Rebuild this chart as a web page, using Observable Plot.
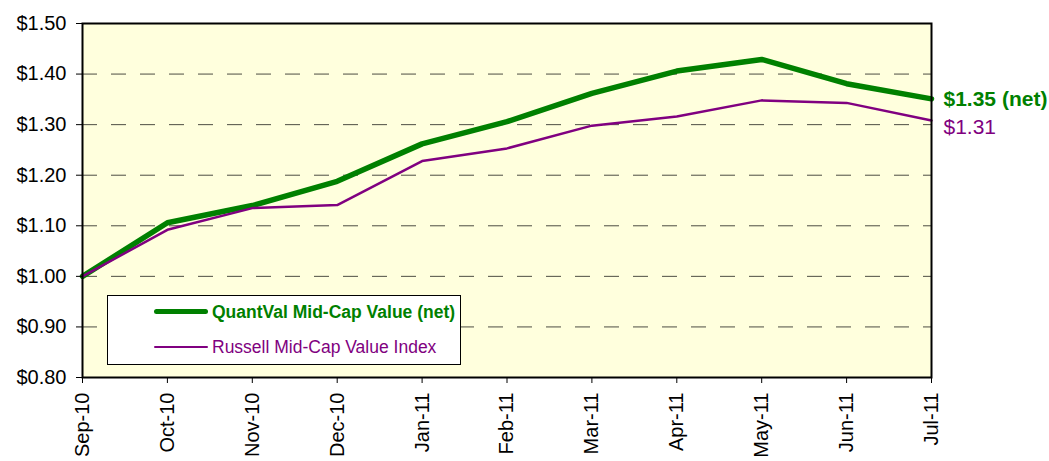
<!DOCTYPE html>
<html>
<head>
<meta charset="utf-8">
<script src="https://cdn.jsdelivr.net/npm/d3@7"></script>
<script src="https://cdn.jsdelivr.net/npm/@observablehq/plot@0.6"></script>
<style>
  body { margin: 0; background: #fff; font-family: "Liberation Sans", Arial, sans-serif; }
  #wrap { position: relative; width: 1049px; height: 461px; overflow: hidden; }
  #legend { position: absolute; left: 107px; top: 295px; width: 354px; height: 70px;
            background: #fff; border: 1px solid #000; box-sizing: border-box; }
  #legend .sample { position: absolute; left: 46px; width: 54px; }
  #legend .label { position: absolute; left: 104px; font-size: 17.5px; line-height: 20px; white-space: nowrap; }
</style>
</head>
<body>
<div id="wrap"></div>
<script>
// ---- data ----
const months = ["Sep-10","Oct-10","Nov-10","Dec-10","Jan-11","Feb-11","Mar-11","Apr-11","May-11","Jun-11","Jul-11"];
const quantval = [1.000, 1.106, 1.140, 1.188, 1.262, 1.306, 1.362, 1.406, 1.429, 1.381, 1.351];
const russell  = [1.000, 1.092, 1.135, 1.141, 1.228, 1.253, 1.298, 1.316, 1.348, 1.343, 1.308];
const seriesNames = ["QuantVal Mid-Cap Value (net)", "Russell Mid-Cap Value Index"];
const seriesColors = ["#008000", "#800080"];
const yTicks = [0.8, 0.9, 1.0, 1.1, 1.2, 1.3, 1.4, 1.5];
const gridValues = [0.9, 1.0, 1.1, 1.2, 1.3, 1.4];

const qData = months.map((m, i) => ({month: m, value: quantval[i]}));
const rData = months.map((m, i) => ({month: m, value: russell[i]}));

const chart = Plot.plot({
  width: 1049,
  height: 461,
  marginLeft: 82,
  marginRight: 118,
  marginTop: 23,
  marginBottom: 84,
  style: { fontFamily: "'Liberation Sans', Arial, sans-serif", fontSize: "20px", color: "#000", background: "transparent" },
  x: { type: "point", domain: months, padding: 0, round: false },
  y: { domain: [0.8, 1.5] },
  marks: [
    Plot.frame({ fill: "#FFFFDD" }),
    Plot.ruleY(gridValues, { stroke: "#000", strokeOpacity: 0.7, strokeWidth: 1, strokeDasharray: "15,14" }),
    Plot.line(qData, { x: "month", y: "value", stroke: seriesColors[0], strokeWidth: 5.5, strokeLinejoin: "round" }),
    Plot.line(rData, { x: "month", y: "value", stroke: seriesColors[1], strokeWidth: 2.5, strokeLinejoin: "round" }),
    Plot.frame({ stroke: "#000", strokeWidth: 2 }),
    Plot.axisY({ ticks: yTicks, tickFormat: d => "$" + d.toFixed(2), tickSize: 6, tickPadding: 10, fontSize: 20, label: null, stroke: "#000" }),
    Plot.axisX({ tickRotate: -90, tickSize: 6, tickPadding: 9, fontSize: 20, label: null, stroke: "#000" }),
    Plot.text([qData[qData.length - 1]], { x: "month", y: "value", text: d => "$" + d.value.toFixed(2) + " (net)",
      dx: 12, textAnchor: "start", fill: seriesColors[0], fontWeight: "bold", fontSize: 21 }),
    Plot.text([rData[rData.length - 1]], { x: "month", y: "value", text: d => "$" + d.value.toFixed(2),
      dx: 12, dy: 7, textAnchor: "start", fill: seriesColors[1], fontSize: 21 })
  ]
});

const wrap = document.getElementById("wrap");
wrap.appendChild(chart);

// legend (HTML overlay inside plot area)
const legend = document.createElement("div");
legend.id = "legend";
const rows = [
  { lineTop: 13, lineH: 5, textTop: 6, bold: true },
  { lineTop: 49.5, lineH: 2.5, textTop: 41, bold: false }
];
rows.forEach((r, i) => {
  const s = document.createElement("div");
  s.className = "sample";
  s.style.top = r.lineTop + "px";
  s.style.height = r.lineH + "px";
  s.style.background = seriesColors[i];
  s.style.borderRadius = (r.lineH / 2) + "px";
  legend.appendChild(s);
  const t = document.createElement("div");
  t.className = "label";
  t.style.top = r.textTop + "px";
  t.style.color = seriesColors[i];
  t.style.fontWeight = r.bold ? "bold" : "normal";
  t.textContent = seriesNames[i];
  legend.appendChild(t);
});
wrap.appendChild(legend);
</script>
</body>
</html>
